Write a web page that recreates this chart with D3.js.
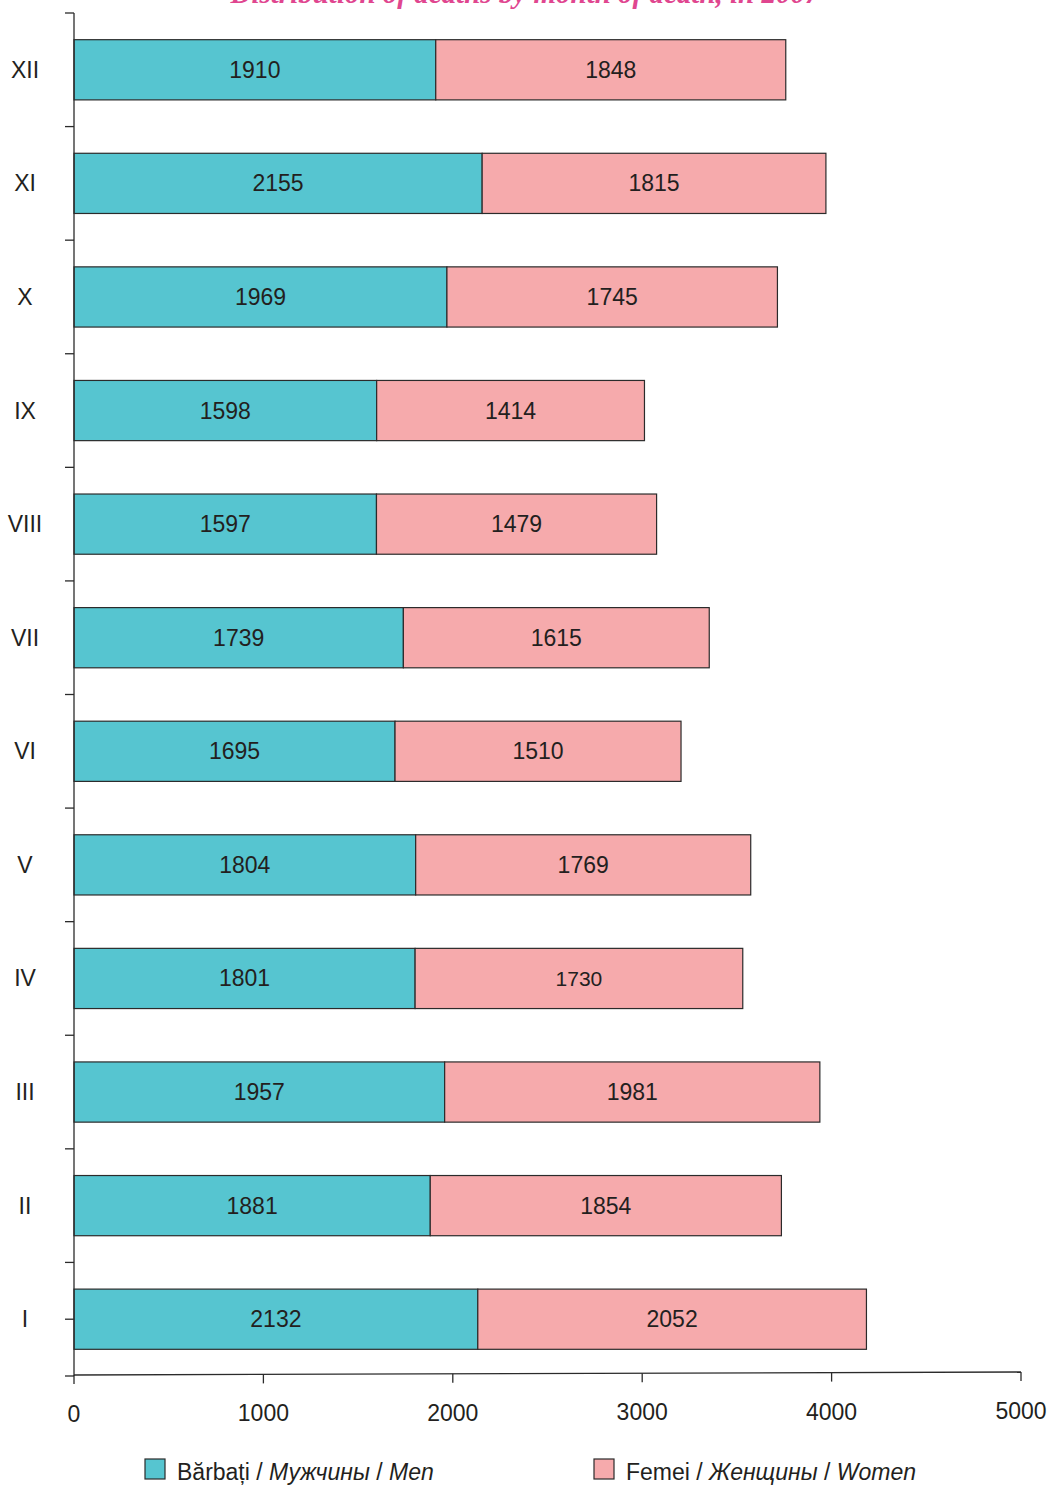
<!DOCTYPE html>
<html><head><meta charset="utf-8">
<script src="https://cdn.jsdelivr.net/npm/d3@7"></script>
<style>
body{margin:0;background:#fff;}
svg text{font-family:"Liberation Sans",Arial,sans-serif;fill:#231f20;}
</style></head>
<body>
<svg id="c" width="1049" height="1486"></svg>
<script>
const months = ["XII","XI","X","IX","VIII","VII","VI","V","IV","III","II","I"];
const men    = [1910,2155,1969,1598,1597,1739,1695,1804,1801,1957,1881,2132];
const women  = [1848,1815,1745,1414,1479,1615,1510,1769,1730,1981,1854,2052];
const xTicks = [0,1000,2000,3000,4000,5000];
const title = "Distribution of deaths by month of death, in 2007";
const legendLabels = [["Bărbați / ","Мужчины / Men"],["Femei / ","Женщины / Women"]];
const colors = ["#56c5d0","#f6aaac"];

const svg = d3.select("#c");
const x = d3.scaleLinear().domain([0,5000]).range([74,1021]);
const y = d3.scaleBand().domain(months).range([13,1376]).paddingInner(0.47).paddingOuter(0.235);

// title (cut off at top, as in the reference)
svg.append("text").attr("x",525).attr("y",3).attr("text-anchor","middle")
  .style("font-family","'Liberation Serif',serif").style("font-style","italic").style("font-weight","bold")
  .style("font-size","29px").style("fill","#e0468f").text(title);

const fs = "23px";
const g = svg.append("g");
months.forEach((m,i)=>{
  const y0 = y(m), h = y.bandwidth();
  g.append("rect").attr("x",x(0)).attr("y",y0).attr("width",x(men[i])-x(0)).attr("height",h)
    .attr("fill",colors[0]).attr("stroke","#2b2b2b").attr("stroke-width",1.2);
  g.append("rect").attr("x",x(men[i])).attr("y",y0).attr("width",x(men[i]+women[i])-x(men[i])).attr("height",h)
    .attr("fill",colors[1]).attr("stroke","#2b2b2b").attr("stroke-width",1.2);
  g.append("text").attr("x",(x(0)+x(men[i]))/2).attr("y",y0+h/2+8).attr("text-anchor","middle")
    .style("font-size",fs).text(men[i]);
  g.append("text").attr("x",(x(men[i])+x(men[i]+women[i]))/2).attr("y",y0+h/2+8).attr("text-anchor","middle")
    .style("font-size", m==="IV" ? "21px" : fs).text(women[i]);
  g.append("text").attr("x",25).attr("y",y0+h/2+8).attr("text-anchor","middle").style("font-size",fs).text(m);
});

// y axis
const ax = svg.append("g").attr("stroke","#2b2b2b").attr("stroke-width",1.3);
ax.append("line").attr("x1",74).attr("x2",74).attr("y1",13).attr("y2",1376);
const step = y.step();
for(let k=0;k<=months.length;k++){
  const yy = 13 + k*step;
  ax.append("line").attr("x1",65).attr("x2",74).attr("y1",yy).attr("y2",yy);
}
ax.append("line").attr("x1",65).attr("x2",74).attr("y1",y("I")+y.bandwidth()/2).attr("y2",y("I")+y.bandwidth()/2);

// x axis (slightly tilted as in the scan)
ax.append("line").attr("x1",74).attr("x2",x(5000)).attr("y1",1375).attr("y2",1372);
xTicks.forEach(t=>{
  const yy = 1375 - (x(t)-74)/(x(5000)-74)*3;
  ax.append("line").attr("x1",x(t)).attr("x2",x(t)).attr("y1",yy).attr("y2",yy+9);
  svg.append("text").attr("x",x(t)).attr("y",yy+47).attr("text-anchor","middle").style("font-size",fs).text(t);
});

// legend
const lx = [145,594];
legendLabels.forEach((l,i)=>{
  svg.append("rect").attr("x",lx[i]).attr("y",1459).attr("width",20).attr("height",20)
    .attr("fill",colors[i]).attr("stroke","#2b2b2b").attr("stroke-width",1.2);
  const t = svg.append("text").attr("x",lx[i]+32).attr("y",1480).style("font-size",fs);
  t.append("tspan").text(l[0]);
  const parts = l[1].split(" / ");
  t.append("tspan").style("font-style","italic").text(parts[0]);
  t.append("tspan").text(" / ");
  t.append("tspan").style("font-style","italic").text(parts[1]);
});
</script>
</body></html>
